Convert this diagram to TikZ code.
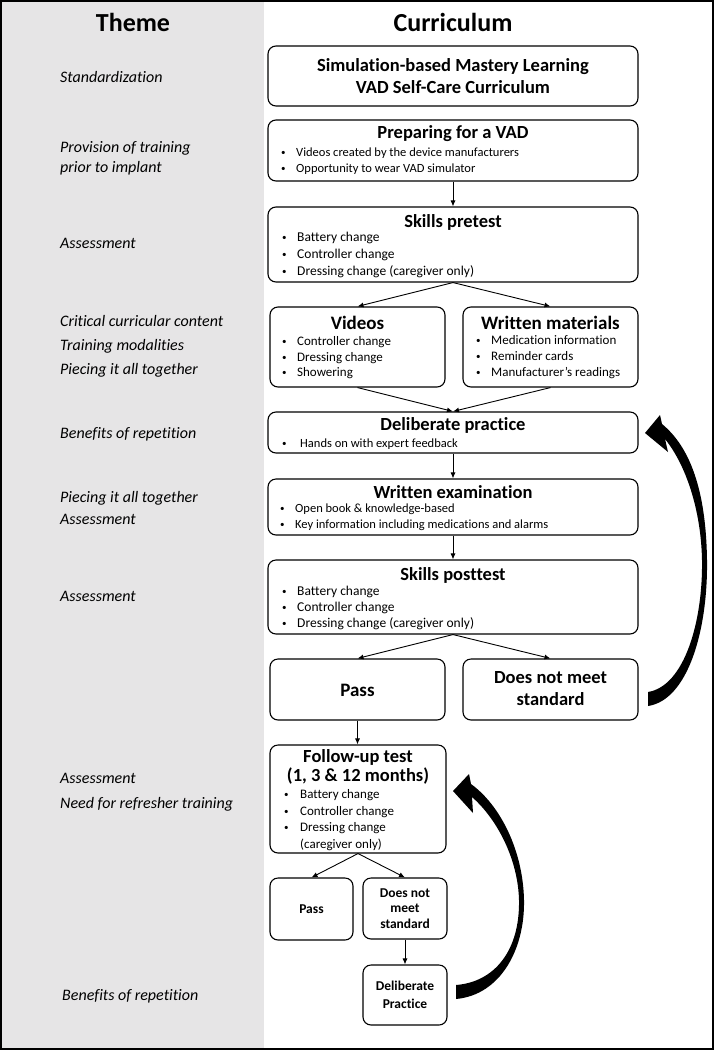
\documentclass[tikz,border=0pt]{standalone}
\usepackage{fontspec}
\setmainfont{Carlito}[Ligatures=CommonOff]
\usetikzlibrary{arrows.meta}
\definecolor{panel}{RGB}{230,229,230}
\newcommand{\bitem}[1][15pt]{\makebox[#1][l]{\raisebox{1pt}{\fontsize{9}{9}\selectfont •}}}
\begin{document}
\begin{tikzpicture}[x=1pt,y=-1pt,
  box/.style={draw=black, line width=1.1pt, rounded corners=8pt, inner sep=0pt},
  ttl/.style={font=\fontsize{18.5}{22}\selectfont\bfseries, inner sep=0pt, align=center},
  hdr/.style={font=\fontsize{26}{30}\selectfont\bfseries, inner sep=0pt},
  bl/.style={anchor=west, inner sep=0pt, align=left},
  thm/.style={anchor=west, inner sep=0pt, align=left},
  arr/.style={-{Latex[length=6pt,width=5pt]}, line width=0.9pt},
  big/.style={fill=black, draw=none},
]
\useasboundingbox (0,0) rectangle (714,1050);
\fill[white] (0,0) rectangle (714,1050);
\fill[panel] (0,0) rectangle (264,1050);
\draw[line width=2pt] (1,1) rectangle (713,1049);

% headers
\node[hdr] (hTheme) at (133,22) {Theme};
\node[hdr] (hCurr) at (453,22) {Curriculum};

% theme labels
\node[thm, font=\fontsize{16}{20}\selectfont\itshape] (t1) at (60,77) {Standardization};
\node[thm, font=\fontsize{16}{20}\selectfont\itshape] (t2) at (60,158) {Provision of training\\prior to implant};
\node[thm, font=\fontsize{16}{20}\selectfont\itshape] (t3) at (60,243) {Assessment};
\node[thm, font=\fontsize{16}{24}\selectfont\itshape] (t4) at (60,346) {Critical curricular content\\Training modalities\\Piecing it all together};
\node[thm, font=\fontsize{16}{20}\selectfont\itshape] (t5) at (60,434) {Benefits of repetition};
\node[thm, font=\fontsize{16}{22}\selectfont\itshape] (t6) at (60,508) {Piecing it all together\\Assessment};
\node[thm, font=\fontsize{16}{20}\selectfont\itshape] (t7) at (60,596) {Assessment};
\node[thm, font=\fontsize{16}{25}\selectfont\itshape] (t8) at (60,792.5) {Assessment\\Need for refresher training};
\node[thm, font=\fontsize{16}{20}\selectfont\itshape] (t9) at (62,996) {Benefits of repetition};

% boxes
\node[box, minimum width=370, minimum height=60] (title) at (453,76) {};
\node[box, minimum width=370, minimum height=61] (prep) at (453,150.5) {};
\node[box, minimum width=370, minimum height=75] (pre) at (453,244.5) {};
\node[box, minimum width=175, minimum height=80] (vid) at (357.5,347) {};
\node[box, minimum width=175, minimum height=80] (wm) at (550.5,347) {};
\node[box, minimum width=370, minimum height=41] (dp) at (453,432.5) {};
\node[box, minimum width=370, minimum height=56] (exam) at (453,507) {};
\node[box, minimum width=370, minimum height=74] (post) at (453,597) {};
\node[box, minimum width=175, minimum height=61] (pass) at (357.5,689.5) {};
\node[box, minimum width=175, minimum height=61] (dnms) at (550.5,689.5) {};
\node[box, minimum width=176, minimum height=108] (fu) at (358,799) {};
\node[box, minimum width=83, minimum height=62] (spass) at (311.5,909) {};
\node[box, minimum width=84, minimum height=61] (sdnms) at (405,908.5) {};
\node[box, minimum width=84, minimum height=60] (sdp) at (405,995) {};

% texts
\node[ttl] (titleT) at (453,76) {Simulation-based Mastery Learning\\VAD Self-Care Curriculum};
\node[ttl] (prepT) at (453,134) {Preparing for a VAD};
\node[bl, font=\fontsize{12.5}{16}\selectfont] (prepB) at (281,161) {\bitem Videos created by the device manufacturers\\\bitem Opportunity to wear VAD simulator};
\node[ttl] (preT) at (453,222) {Skills pretest};
\node[bl, font=\fontsize{13.5}{17}\selectfont] (preB) at (282,255) {\bitem Battery change\\\bitem Controller change\\\bitem Dressing change (caregiver only)};
\node[ttl, font=\fontsize{19}{22}\selectfont\bfseries] (vidT) at (357.5,323) {Videos};
\node[bl, font=\fontsize{13}{15.5}\selectfont] (vidB) at (282,357.7) {\bitem Controller change\\\bitem Dressing change\\\bitem Showering};
\node[ttl, font=\fontsize{19}{22}\selectfont\bfseries] (wmT) at (550.5,323) {Written materials};
\node[bl, font=\fontsize{13}{16}\selectfont] (wmB) at (476,357) {\bitem Medication information\\\bitem Reminder cards\\\bitem Manufacturer’s readings};
\node[ttl] (dpT) at (453,425) {Deliberate practice};
\node[bl, font=\fontsize{12.5}{16}\selectfont] (dpB) at (282,444) {\bitem[18pt]Hands on with expert feedback};
\node[ttl] (examT) at (453,492) {Written examination};
\node[bl, font=\fontsize{12.5}{16}\selectfont] (examB) at (280,517) {\bitem Open book \& knowledge-based\\\bitem Key information including medications and alarms};
\node[ttl] (postT) at (453,575) {Skills posttest};
\node[bl, font=\fontsize{13.5}{16}\selectfont] (postB) at (282,608) {\bitem Battery change\\\bitem Controller change\\\bitem Dressing change (caregiver only)};
\node[ttl, font=\fontsize{19}{22}\selectfont\bfseries] (passT) at (357.5,690) {Pass};
\node[ttl] (dnmsT) at (550.5,689) {Does not meet\\standard};
\node[ttl, font=\fontsize{18.5}{19}\selectfont\bfseries] (fuT) at (358,766.5) {Follow-up test\\(1, 3 \& 12 months)};
\node[bl, font=\fontsize{13}{16.7}\selectfont] (fuB) at (284,820) {\bitem[16pt]Battery change\\\bitem[16pt]Controller change\\\bitem[16pt]Dressing change\\\hspace*{16pt}(caregiver only)};
\node[ttl, font=\fontsize{13.5}{15.5}\selectfont\bfseries] (spassT) at (311.5,909) {Pass};
\node[ttl, font=\fontsize{13.5}{15.5}\selectfont\bfseries] (sdnmsT) at (405,908.5) {Does not\\meet\\standard};
\node[ttl, font=\fontsize{13.5}{18}\selectfont\bfseries] (sdpT) at (405,995) {Deliberate\\Practice};

% connectors
\draw[arr] (prep) -- (pre);
\draw[arr] (pre.south) -- (vid.north);
\draw[arr] (pre.south) -- (wm.north);
\draw[arr] (vid.south) -- (dp.north);
\draw[arr] (wm.south) -- (dp.north);
\draw[arr] (dp) -- (exam);
\draw[arr] (exam) -- (post);
\draw[arr] (post.south) -- (pass.north);
\draw[arr] (post.south) -- (dnms.north);
\draw[arr] (pass.south) -- (pass.south |- fu.north);
\draw[arr] (fu.south) -- (spass.north);
\draw[arr] (fu.south) -- (sdnms.north);
\draw[arr] (sdnms) -- (sdp);

% big curved arrows
\fill[big] (648,706) .. controls (688,700) and (708,630) .. (707,560)
  .. controls (706,490) and (690,447) .. (662,424) -- (660,415) -- (645,433) -- (668,452) -- (665,439)
  .. controls (686,465) and (701,510) .. (702,560)
  .. controls (703,620) and (685,686) .. (648,692) -- cycle;
\fill[big] (456,999) .. controls (500,995) and (525,950) .. (524,900)
  .. controls (523,850) and (500,805) .. (471,784) -- (469,774) -- (453,791) -- (473,813) -- (472,797)
  .. controls (498,820) and (518,860) .. (519,900)
  .. controls (520,950) and (495,982) .. (456,985) -- cycle;
\end{tikzpicture}
\end{document}
